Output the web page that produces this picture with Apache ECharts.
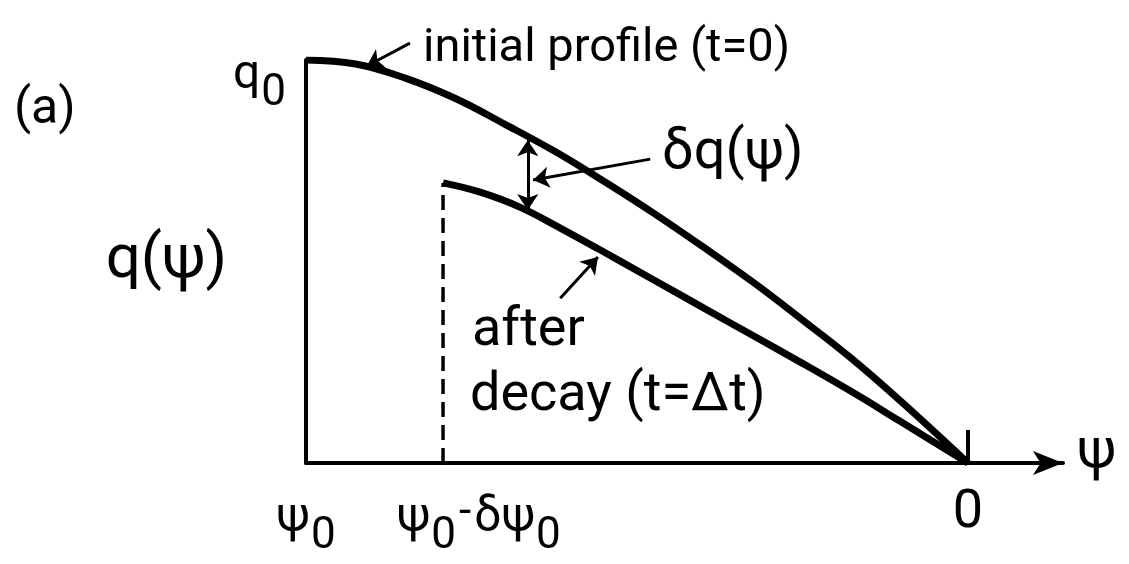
<!DOCTYPE html>
<html><head><meta charset="utf-8">
<script src="https://cdn.jsdelivr.net/npm/echarts@6/dist/echarts.min.js"></script>
<style>html,body{margin:0;padding:0;background:#fff}#c{width:1129px;height:564px}</style>
</head><body><div id="c"></div>
<script>
// x: position along the psi axis (0 = psi0 at left end, 100 = psi = 0)
// y: q as a percentage of q0
const initialX = [0, 7.5, 15, 22.5, 30, 37.5, 45, 52.5, 60, 67.5, 75, 82.5, 90, 100];
const initialY = [100, 99.0, 95.5, 90.5, 84.1, 77.4, 69.9, 62.0, 53.6, 44.9, 35.5, 25.8, 15.1, 0];
const decayX = [20.7, 26.3, 32.3, 38.4, 44.4, 52.0, 59.5, 67.1, 74.6, 82.2, 89.7, 100];
const decayY = [69.5, 67.2, 63.5, 58.3, 52.9, 45.9, 39.0, 32.0, 25.1, 17.9, 10.4, 0];
// tick labels (the psi0 - delta psi0 label sits to the right of its dashed tick, as in the figure)
const xTickValues = [0, 26.1, 100];
const xTickLabels = ['{g|ψ}{s|0}', '{g|ψ}{s|0}{m|-}{g|δψ}{s|0}', '{z|0}'];
const yTickValues = [100];
const yTickLabels = ['{g|q}{s|0}'];
const cutX = [20.7, 20.7];
const cutY = [0, 69.5];
// annotation arrows (value coordinates)
const pointerFrom = [[15.7, 104.2], [52.0, 75.4], [38.4, 40.9]];
const pointerTo = [[9.2, 98.5], [34.3, 70.2], [44.1, 51.1]];
const deltaFrom = [33.5, 80.1];
const deltaTo = [33.5, 62.8];

const FONT = 'Roboto';
const zip = (xs, ys) => xs.map((x, i) => [x, ys[i]]);
const rich = {
  g: {fontFamily: FONT, fontSize: 48, lineHeight: 48, padding: [0, 0, 16, 0], color: '#000'},
  s: {fontFamily: FONT, fontSize: 44, lineHeight: 44, padding: [20, 0, 0, 1], color: '#000'},
  m: {fontFamily: FONT, fontSize: 44, lineHeight: 44, padding: [0, 3, 26, 3], color: '#000'},
  z: {fontFamily: FONT, fontSize: 54, lineHeight: 20, color: '#000'}
};

const chart = echarts.init(document.getElementById('c'), null, {renderer: 'canvas'});
chart.setOption({
  animation: false,
  backgroundColor: '#fff',
  grid: {left: 306, right: 66, top: 60, bottom: 101, containLabel: false},
  xAxis: {
    type: 'value', min: 0, max: 114.35,
    splitLine: {show: false},
    axisLine: {show: true, symbol: ['none', 'arrow'], symbolSize: [18, 30], symbolOffset: [0, 0],
      lineStyle: {color: '#000', width: 4}},
    axisTick: {show: true, customValues: [100], inside: true, length: 33, lineStyle: {color: '#000', width: 4}},
    axisLabel: {show: true, customValues: xTickValues, margin: 40, rich: rich,
      hideOverlap: false, showMinLabel: true, showMaxLabel: true,
      formatter: v => xTickLabels[xTickValues.indexOf(v)] || ''},
    name: 'ψ', nameLocation: 'end', nameGap: 14,
    nameTextStyle: {fontFamily: FONT, fontSize: 56, color: '#000', verticalAlign: 'bottom', lineHeight: 20}
  },
  yAxis: {
    type: 'value', min: 0, max: 100,
    splitLine: {show: false},
    axisLine: {show: true, onZero: false, lineStyle: {color: '#000', width: 4}},
    axisTick: {show: false},
    axisLabel: {show: true, customValues: yTickValues, margin: 20, verticalAlign: 'top', rich: rich,
      hideOverlap: false, showMaxLabel: true,
      formatter: v => yTickLabels[yTickValues.indexOf(v)] || ''},
    name: 'q(ψ)', nameLocation: 'middle', nameRotate: 0, nameGap: 76,
    nameTextStyle: {fontFamily: FONT, fontSize: 62, color: '#000', align: 'right', verticalAlign: 'middle'}
  },
  series: [
    {type: 'line', name: 'initial profile (t=0)', data: zip(initialX, initialY), smooth: 0.4,
      showSymbol: false, symbol: 'none', lineStyle: {color: '#000', width: 7}, z: 5},
    {type: 'line', name: 'after decay (t=Δt)', data: zip(decayX, decayY), smooth: 0.4,
      showSymbol: false, symbol: 'none', lineStyle: {color: '#000', width: 7}, z: 5},
    {type: 'line', name: 'cut', data: zip(cutX, cutY), showSymbol: false, symbol: 'none',
      lineStyle: {color: '#000', width: 3.5, type: [15, 8]}, z: 4},
    {type: 'lines', coordinateSystem: 'cartesian2d', clip: false,
      data: pointerFrom.map((f, i) => ({coords: [f, pointerTo[i]]})),
      symbol: ['none', 'arrow'], symbolSize: 16, lineStyle: {color: '#000', width: 3, opacity: 1}, z: 6},
    {type: 'lines', coordinateSystem: 'cartesian2d', clip: false,
      data: [{coords: [deltaFrom, deltaTo]}],
      symbol: ['arrow', 'arrow'], symbolSize: 16, lineStyle: {color: '#000', width: 3, opacity: 1}, z: 6}
  ],
  graphic: [
    {type: 'text', left: 14, top: 85, style: {text: '(a)', font: '50px Roboto', fill: '#000'}},
    {type: 'text', left: 423, top: 26, style: {text: 'initial profile (t=0)', font: '47px Roboto', fill: '#000'}},
    {type: 'text', left: 662, top: 126, style: {text: 'δq(ψ)', font: '56px Roboto', fill: '#000'}},
    {type: 'text', left: 472, top: 304, style: {text: 'after', font: '54px Roboto', fill: '#000'}},
    {type: 'text', left: 470, top: 369, style: {text: 'decay (t=Δt)', font: '54px Roboto', fill: '#000'}}
  ]
});
</script></body></html>
